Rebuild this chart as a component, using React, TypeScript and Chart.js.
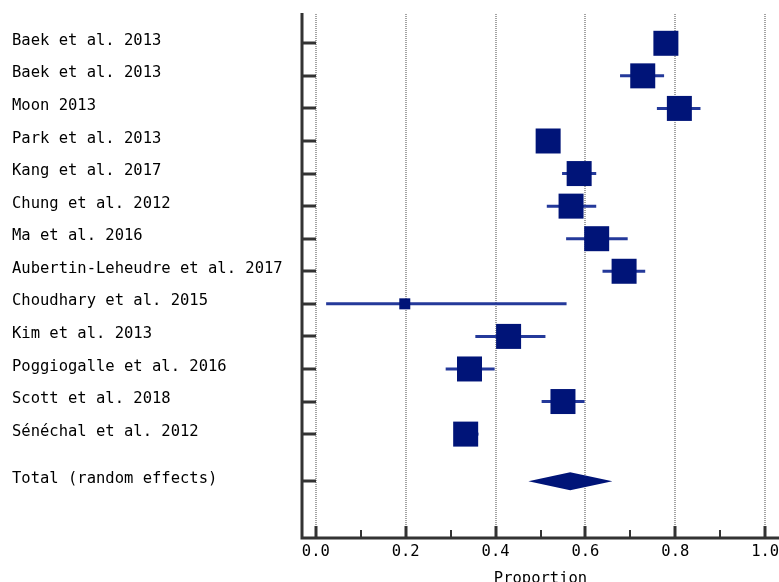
import React, { useEffect, useRef } from "react";
import { Chart, registerables } from "chart.js";

Chart.register(...registerables);

// ---- data ----
const studies = [
  "Baek et al. 2013",
  "Baek et al. 2013",
  "Moon 2013",
  "Park et al. 2013",
  "Kang et al. 2017",
  "Chung et al. 2012",
  "Ma et al. 2016",
  "Aubertin-Leheudre et al. 2017",
  "Choudhary et al. 2015",
  "Kim et al. 2013",
  "Poggiogalle et al. 2016",
  "Scott et al. 2018",
  "Se\u0301ne\u0301chal et al. 2012",
];
const estimates = [0.779, 0.7275, 0.809, 0.517, 0.586, 0.568, 0.625, 0.686, 0.198, 0.429, 0.342, 0.55, 0.3335];
const lowerCI = [0.766, 0.677, 0.759, 0.505, 0.548, 0.514, 0.557, 0.638, 0.023, 0.355, 0.289, 0.5025, 0.318];
const upperCI = [0.794, 0.775, 0.856, 0.53, 0.624, 0.624, 0.694, 0.733, 0.558, 0.511, 0.398, 0.598, 0.362];
const weights = [8, 8, 8, 8, 8, 8, 8, 8, 1.55, 8, 8, 8, 8];

const totalLabel = "Total (random effects)";
const totalEstimate = 0.566;
const totalLower = 0.473;
const totalUpper = 0.66;
const TOTAL_ROW = 13.45;

const xMajorTicks = [0, 0.2, 0.4, 0.6, 0.8, 1.0];
const xMinorTicks = [0.1, 0.3, 0.5, 0.7, 0.9];
const xTickLabels = ["0.0", "0.2", "0.4", "0.6", "0.8", "1.0"];
const xTitle = "Proportion";

// ---- styles ----
const FONT = "'DejaVu Sans Mono', monospace";
const FONT_SIZE = 15.5;
const MARKER = "#001478";
const BAR = "#24399a";
const AXIS = "#333333";
const MARKER_SIDE = 25;
const CANVAS_W = 779;
const CANVAS_H = 600;

const forestPlugin = {
  id: "forestExtras",
  beforeDatasetsDraw(chart: any) {
    const { ctx, chartArea, scales } = chart;
    const x = scales.x;
    const y = scales.y;
    ctx.save();
    // dotted vertical grid lines
    ctx.strokeStyle = "#a3a3a3";
    ctx.lineWidth = 2;
    ctx.setLineDash([1, 1]);
    xMajorTicks.forEach((v) => {
      const px = Math.round(x.getPixelForValue(v));
      ctx.beginPath();
      ctx.moveTo(px, chartArea.top + 1);
      ctx.lineTo(px, chartArea.bottom);
      ctx.stroke();
    });
    ctx.setLineDash([]);
    // confidence intervals
    ctx.strokeStyle = BAR;
    ctx.lineWidth = 3;
    estimates.forEach((_, i) => {
      const py = y.getPixelForValue(i);
      ctx.beginPath();
      ctx.moveTo(x.getPixelForValue(lowerCI[i]), py);
      ctx.lineTo(x.getPixelForValue(upperCI[i]), py);
      ctx.stroke();
    });
    // pooled diamond
    const ty = y.getPixelForValue(TOTAL_ROW);
    const h = 9;
    ctx.fillStyle = MARKER;
    ctx.beginPath();
    ctx.moveTo(x.getPixelForValue(totalLower), ty);
    ctx.lineTo(x.getPixelForValue(totalEstimate), ty - h);
    ctx.lineTo(x.getPixelForValue(totalUpper), ty);
    ctx.lineTo(x.getPixelForValue(totalEstimate), ty + h);
    ctx.closePath();
    ctx.fill();
    ctx.restore();
  },
  afterDraw(chart: any) {
    const { ctx, chartArea, scales } = chart;
    const x = scales.x;
    const y = scales.y;
    ctx.save();
    ctx.strokeStyle = AXIS;
    ctx.lineCap = "butt";
    // axis lines
    ctx.lineWidth = 3;
    ctx.beginPath();
    ctx.moveTo(chartArea.left, chartArea.top);
    ctx.lineTo(chartArea.left, chartArea.bottom + 1.5);
    ctx.moveTo(chartArea.left - 1.5, chartArea.bottom);
    ctx.lineTo(chartArea.right, chartArea.bottom);
    ctx.stroke();
    // y ticks (inward)
    const rows = [...estimates.map((_, i) => i), TOTAL_ROW];
    rows.forEach((r) => {
      const py = Math.round(y.getPixelForValue(r));
      ctx.beginPath();
      ctx.moveTo(chartArea.left, py);
      ctx.lineTo(chartArea.left + 14, py);
      ctx.stroke();
    });
    // x major ticks
    xMajorTicks.forEach((v) => {
      const px = Math.round(x.getPixelForValue(v));
      ctx.beginPath();
      ctx.moveTo(px, chartArea.bottom);
      ctx.lineTo(px, chartArea.bottom - 12);
      ctx.stroke();
    });
    ctx.lineWidth = 2;
    xMinorTicks.forEach((v) => {
      const px = Math.round(x.getPixelForValue(v));
      ctx.beginPath();
      ctx.moveTo(px, chartArea.bottom);
      ctx.lineTo(px, chartArea.bottom - 8);
      ctx.stroke();
    });
    // x tick labels
    ctx.fillStyle = "#000";
    ctx.font = `${FONT_SIZE}px ${FONT}`;
    ctx.textAlign = "center";
    ctx.textBaseline = "middle";
    xMajorTicks.forEach((v, i) => {
      ctx.fillText(xTickLabels[i], x.getPixelForValue(v), chartArea.bottom + 14);
    });
    ctx.restore();
  },
};

export default function App() {
  const ref = useRef<HTMLCanvasElement | null>(null);

  useEffect(() => {
    if (!ref.current) return;
    const font = { family: FONT, size: FONT_SIZE };
    const chart = new Chart(ref.current, {
      type: "scatter",
      data: {
        datasets: [
          {
            data: estimates.map((v, i) => ({ x: v, y: i })),
            pointStyle: "rect",
            pointRadius: weights.map((w) => (MARKER_SIDE * Math.sqrt(w / 8)) / Math.SQRT2),
            pointHoverRadius: weights.map((w) => (MARKER_SIDE * Math.sqrt(w / 8)) / Math.SQRT2),
            backgroundColor: MARKER,
            borderWidth: 0,
          },
        ],
      },
      options: {
        responsive: false,
        animation: false,
        layout: { autoPadding: false, padding: { left: 12, top: 13, right: 0, bottom: 0 } },
        plugins: { legend: { display: false }, tooltip: { enabled: false } },
        scales: {
          x: {
            type: "linear",
            min: -0.0307,
            max: 1.0307,
            grid: { display: false, drawTicks: false },
            border: { display: false },
            afterBuildTicks: (s: any) => {
              s.ticks = xMajorTicks.map((v) => ({ value: v }));
            },
            afterFit: (s: any) => {
              s.height = CANVAS_H - 538;
              s.paddingLeft = 0;
              s.paddingRight = 0;
            },
            ticks: { display: false },
            title: {
              display: true,
              text: xTitle,
              color: "#000",
              font,
              padding: { top: 0, bottom: 12 },
            },
          },
          y: {
            type: "linear",
            reverse: true,
            min: -0.93,
            max: 15.19,
            grid: { display: false, drawTicks: false },
            border: { display: false },
            afterBuildTicks: (s: any) => {
              s.ticks = [...studies.map((_, i) => ({ value: i })), { value: TOTAL_ROW }];
            },
            afterFit: (s: any) => {
              s.width = 290;
              s.paddingTop = 0;
              s.paddingBottom = 0;
            },
            ticks: {
              autoSkip: false,
              crossAlign: "far",
              labelOffset: -2.5,
              color: "#000",
              font,
              callback: (_v: any, i: number) => (i < studies.length ? studies[i] : totalLabel),
            },
          },
        },
      },
      plugins: [forestPlugin],
    } as any);
    return () => chart.destroy();
  }, []);

  return (
    <div
      style={{
        position: "fixed",
        left: 0,
        top: 0,
        width: 779,
        height: 582,
        overflow: "hidden",
        background: "#fff",
      }}
    >
      <canvas ref={ref} width={CANVAS_W} height={CANVAS_H} style={{ display: "block" }} />
    </div>
  );
}
